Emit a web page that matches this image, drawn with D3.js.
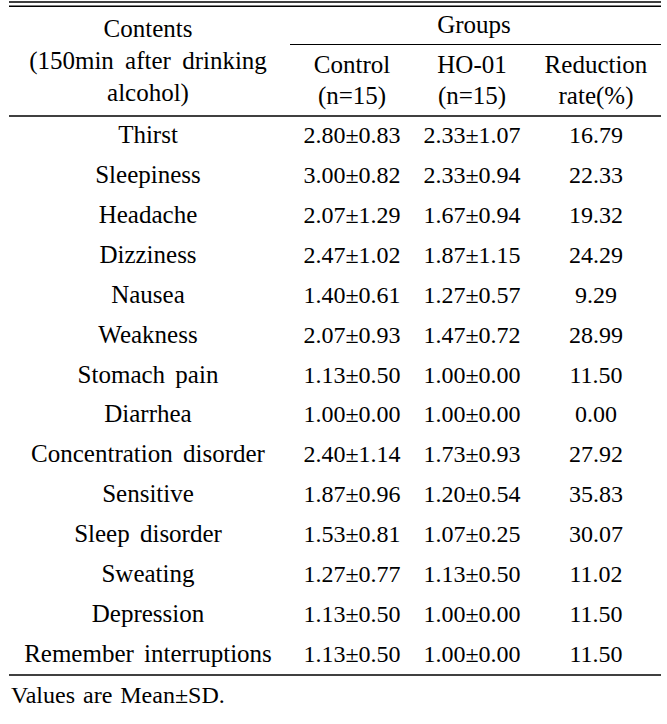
<!DOCTYPE html>
<html>
<head>
<meta charset="utf-8">
<script src="https://cdn.jsdelivr.net/npm/d3@7"></script>
<style>
  html, body { margin: 0; padding: 0; background: #fff; }
  svg { display: block; }
  text { font-family: "Liberation Serif", "Times New Roman", serif; fill: #000; }
</style>
</head>
<body>
<div id="chart"></div>
<script>
// ---- Data ----
const contents = ["Thirst", "Sleepiness", "Headache", "Dizziness", "Nausea", "Weakness",
  "Stomach pain", "Diarrhea", "Concentration disorder", "Sensitive", "Sleep disorder",
  "Sweating", "Depression", "Remember interruptions"];
const controlMean = [2.80, 3.00, 2.07, 2.47, 1.40, 2.07, 1.13, 1.00, 2.40, 1.87, 1.53, 1.27, 1.13, 1.13];
const controlSD   = [0.83, 0.82, 1.29, 1.02, 0.61, 0.93, 0.50, 0.00, 1.14, 0.96, 0.81, 0.77, 0.50, 0.50];
const hoMean      = [2.33, 2.33, 1.67, 1.87, 1.27, 1.47, 1.00, 1.00, 1.73, 1.20, 1.07, 1.13, 1.00, 1.00];
const hoSD        = [1.07, 0.94, 0.94, 1.15, 0.57, 0.72, 0.00, 0.00, 0.93, 0.54, 0.25, 0.50, 0.00, 0.00];
const reduction   = [16.79, 22.33, 19.32, 24.29, 9.29, 28.99, 11.50, 0.00, 27.92, 35.83, 30.07, 11.02, 11.50, 11.50];
const columns = ["contents", "control", "ho01", "reduction"];
const headerGroup = "Groups";
const headerContents = ["Contents", "(150min after drinking", "alcohol)"];
const headerCols = [["Control", "(n=15)"], ["HO-01", "(n=15)"], ["Reduction", "rate(%)"]];
const footnote = "Values are Mean±SD.";

// ---- Layout ----
const W = 667, H = 724;
const svg = d3.select("#chart").append("svg").attr("width", W).attr("height", H);
svg.append("rect").attr("width", W).attr("height", H).attr("fill", "#fff");

const x = d3.scaleOrdinal().domain(columns).range([148, 352, 472, 596]);
const y = d3.scaleLinear().domain([0, contents.length - 1]).range([143.3, 661.7]);
const fmt = d3.format(".2f");

// rules
const rule = (x1, x2, yy, w) => svg.append("line")
  .attr("x1", x1).attr("x2", x2).attr("y1", yy).attr("y2", yy)
  .attr("stroke", "#000").attr("stroke-width", w);
rule(9, 661, 2, 1.4);
rule(9, 661, 6.3, 1.4);
rule(290, 661, 44.5, 1.2);
rule(9, 661, 116, 1.4);
rule(9, 661, 675, 1.4);

// header
const hdr = svg.append("g").attr("font-size", 25).attr("text-anchor", "middle");
hdr.selectAll("text.hc").data(headerContents).join("text")
  .attr("class", "hc")
  .attr("x", x("contents"))
  .attr("y", (d, i) => [37, 69, 101][i])
  .attr("word-spacing", 5)
  .text(d => d);
hdr.append("text").attr("x", 474).attr("y", 33).text(headerGroup);
headerCols.forEach((lines, ci) => {
  hdr.selectAll(null).data(lines).join("text")
    .attr("x", x(columns[ci + 1]))
    .attr("y", (d, i) => [73, 104][i])
    .text(d => d);
});

// body rows
const rows = svg.append("g").attr("text-anchor", "middle")
  .selectAll("g").data(contents.map((c, i) => i)).join("g")
  .attr("transform", i => `translate(0,${y(i)})`);
rows.append("text").attr("x", x("contents")).attr("font-size", 25)
  .attr("word-spacing", 4).text(i => contents[i]);
rows.append("text").attr("x", x("control")).attr("font-size", 24)
  .text(i => `${fmt(controlMean[i])}±${fmt(controlSD[i])}`);
rows.append("text").attr("x", x("ho01")).attr("font-size", 24)
  .text(i => `${fmt(hoMean[i])}±${fmt(hoSD[i])}`);
rows.append("text").attr("x", x("reduction")).attr("font-size", 24)
  .text(i => fmt(reduction[i]));

// footnote
svg.append("text").attr("x", 11).attr("y", 703).attr("font-size", 24)
  .attr("word-spacing", 2).text(footnote);
</script>
</body>
</html>
